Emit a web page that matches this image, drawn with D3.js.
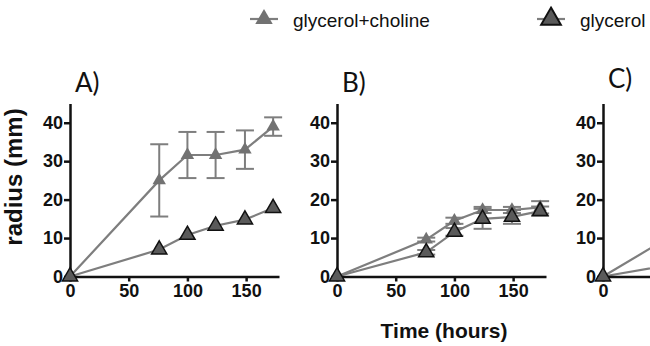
<!DOCTYPE html>
<html>
<head>
<meta charset="utf-8">
<script src="https://cdn.jsdelivr.net/npm/d3@7"></script>
<style>
  body { margin: 0; background: #fff; }
  .tick text { font-family: "Liberation Sans", Arial, sans-serif; font-weight: bold; font-size: 18px; fill: #111; }
  .domain, .tick line { stroke: #111; stroke-width: 2.5px; }
</style>
</head>
<body>
<div id="chart"></div>
<script>
// Chart data
var hours = [0, 76, 100, 124, 149, 173];
var panels = ["A)", "B)", "C)"];

var cholineA = [0, 25, 31.6, 31.6, 33, 39];
var cholineErrA = [0, 9.4, 6, 6, 5, 2.4];
var glycerolA = [0, 7, 10.8, 13.2, 14.8, 17.8];
var glycerolErrA = [0, 0, 0, 0, 0, 0];

var cholineB = [0, 9.6, 14.5, 17.3, 17.3, 18];
var cholineErrB = [0, 0.5, 0.8, 0.8, 0.8, 1.6];
var glycerolB = [0, 6.3, 11.6, 15, 15.5, 17];
var glycerolErrB = [0, 0.6, 1, 2.6, 1.8, 1.2];

var cholineC = [0, 13.8, 18, 22, 25, 28];
var cholineErrC = [0, 1, 1, 1, 1, 1];
var glycerolC = [0, 4, 6, 8, 10, 12];
var glycerolErrC = [0, 0.5, 0.5, 0.5, 0.5, 0.5];

var yTicks = [0, 10, 20, 30, 40];
var xTicks = [0, 50, 100, 150];

var seriesByPanel = [
    [cholineA, cholineErrA, glycerolA, glycerolErrA],
    [cholineB, cholineErrB, glycerolB, glycerolErrB],
    [cholineC, cholineErrC, glycerolC, glycerolErrC]
];

var svgWidth = 650;
var svgHeight = 346;

var lineColor = "#7e7e7e";
var cholineFill = "#727272";
var glycerolFill = "#5a5a5a";

var svg = d3.select("#chart")
    .append("svg")
    .attr("width", svgWidth)
    .attr("height", svgHeight);

// panel geometry
var panelLeft = [70, 337, 603];
var plotTop = 103.5;
var plotBottom = 276.5;
var plotWidth = 209;

var yScale = d3.scaleLinear().domain([0, 45]).range([plotBottom, plotTop]);

var triChol = d3.symbol().type(d3.symbolTriangle).size(78);
var triGly = d3.symbol().type(d3.symbolTriangle).size(100);

panels.forEach(function(label, p) {
    var x0 = panelLeft[p];
    var xScale = d3.scaleLinear().domain([0, 178]).range([x0, x0 + plotWidth]);

    var g = svg.append("g");

    g.append("text")
        .attr("x", x0 + 5)
        .attr("y", p == 2 ? 88 : 92)
        .style("font-family", "Lato, 'Liberation Sans', sans-serif")
        .style("font-size", "26px")
        .style("fill", "#111")
        .text(label);

    var s = seriesByPanel[p];
    var rows = [
        {mean: s[0], err: s[1], sym: triChol, fill: cholineFill, stroke: "none"},
        {mean: s[2], err: s[3], sym: triGly, fill: glycerolFill, stroke: "#111"}
    ];

    rows.forEach(function(r) {
        var pts = hours.map(function(h, i) {
            return {x: h, y: r.mean[i], e: r.err[i]};
        });

        var line = d3.line()
            .x(d => xScale(d.x))
            .y(d => yScale(d.y));

        g.append("path")
            .datum(pts)
            .attr("d", line)
            .attr("fill", "none")
            .attr("stroke", lineColor)
            .attr("stroke-width", 2.2);

        var eb = g.selectAll(null)
            .data(pts.filter(d => d.e > 0))
            .enter()
            .append("g")
            .attr("stroke", lineColor)
            .attr("stroke-width", 2);

        eb.append("line")
            .attr("x1", d => xScale(d.x)).attr("x2", d => xScale(d.x))
            .attr("y1", d => yScale(d.y - d.e)).attr("y2", d => yScale(d.y + d.e));
        eb.append("line")
            .attr("x1", d => xScale(d.x) - 9).attr("x2", d => xScale(d.x) + 9)
            .attr("y1", d => yScale(d.y + d.e)).attr("y2", d => yScale(d.y + d.e));
        eb.append("line")
            .attr("x1", d => xScale(d.x) - 9).attr("x2", d => xScale(d.x) + 9)
            .attr("y1", d => yScale(d.y - d.e)).attr("y2", d => yScale(d.y - d.e));

        r.points = pts;
    });

    // Axes (panel C runs off the page, keep only the ticks that fit)
    var shownX = xTicks.filter(v => xScale(v) + 12 < svgWidth);

    g.append("g")
        .attr("transform", `translate(0, ${plotBottom})`)
        .call(d3.axisBottom(xScale).tickValues(shownX).tickSize(5).tickPadding(3).tickSizeOuter(0));

    g.append("g")
        .attr("transform", `translate(${x0}, 0)`)
        .call(d3.axisLeft(yScale).tickValues(yTicks).tickSize(6).tickPadding(1).tickSizeOuter(0));

    // markers on top
    rows.forEach(function(r) {
        g.selectAll(null)
            .data(r.points)
            .enter()
            .append("path")
            .attr("d", r.sym)
            .attr("transform", d => `translate(${xScale(d.x)}, ${yScale(d.y)})`)
            .attr("fill", r.fill)
            .attr("stroke", r.stroke)
            .attr("stroke-width", 1.5);
    });
});

// Axis titles
svg.append("text")
    .attr("transform", "translate(22, 177) rotate(-90)")
    .attr("text-anchor", "middle")
    .style("font-family", "'Liberation Sans', Arial, sans-serif")
    .style("font-weight", "bold")
    .style("font-size", "24px")
    .style("fill", "#111")
    .text("radius (mm)");

svg.append("text")
    .attr("x", 444)
    .attr("y", 338)
    .attr("text-anchor", "middle")
    .style("font-family", "'Liberation Sans', Arial, sans-serif")
    .style("font-weight", "bold")
    .style("font-size", "21px")
    .style("fill", "#111")
    .text("Time (hours)");

// Legend
var legendItems = [
    {name: "glycerol+choline", x: 264, sym: triChol, fill: cholineFill, stroke: "none"},
    {name: "glycerol", x: 551, sym: triGly, fill: glycerolFill, stroke: "#111"}
];

var legend = svg.selectAll(".legend")
    .data(legendItems)
    .enter()
    .append("g")
    .attr("class", "legend")
    .attr("transform", d => `translate(${d.x}, 19)`);

legend.append("line")
    .attr("x1", -14).attr("x2", 14)
    .attr("stroke", lineColor)
    .attr("stroke-width", 2.2);

legend.append("path")
    .attr("d", d => d.sym())
    .attr("fill", d => d.fill)
    .attr("stroke", d => d.stroke)
    .attr("stroke-width", 1.5)
    .attr("transform", "scale(1.3)");

legend.append("text")
    .attr("x", 29)
    .attr("y", 8)
    .style("font-family", "'Liberation Sans', Arial, sans-serif")
    .style("font-size", "19px")
    .style("fill", "#111")
    .text(d => d.name);
</script>
</body>
</html>
